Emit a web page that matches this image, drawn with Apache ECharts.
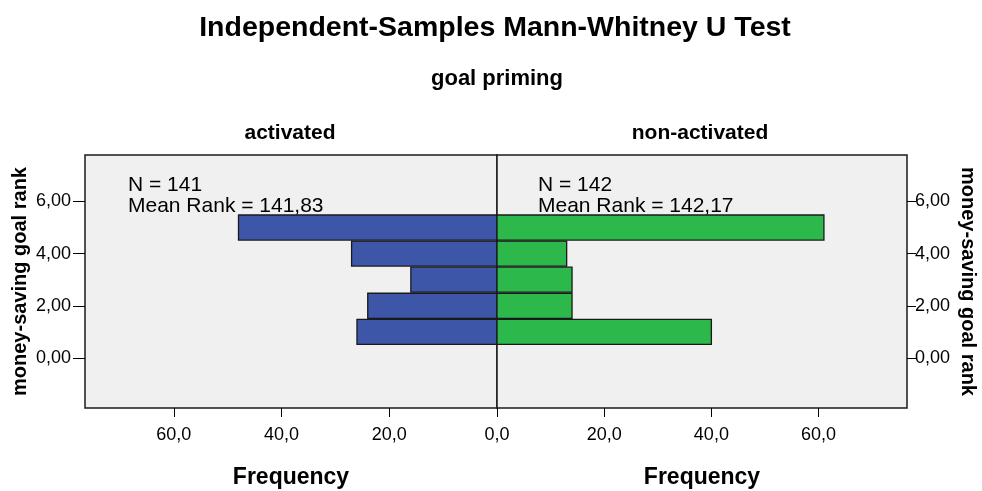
<!DOCTYPE html>
<html>
<head>
<meta charset="utf-8">
<script src="https://cdn.jsdelivr.net/npm/echarts@6/dist/echarts.min.js"></script>
<style>
html,body{margin:0;padding:0;background:#fff;}
#chart{width:982px;height:491px;}
</style>
</head>
<body>
<div id="chart"></div>
<script>
// ---- data ----
const ranks = [1, 2, 3, 4, 5];
const activatedFreq = [26, 24, 16, 27, 48];
const nonActivatedFreq = [40, 14, 14, 13, 61];
const groupNames = ['activated', 'non-activated'];
const groupN = [141, 142];
const groupMeanRank = ['141,83', '142,17'];
const yTicks = [0, 2, 4, 6];
const xTicks = [0, 20, 40, 60];

const FONT = '"Liberation Sans", Arial, sans-serif';
const chart = echarts.init(document.getElementById('chart'));

function fmtX(v){ return v.toFixed(1).replace('.', ','); }
function fmtY(v){ return v.toFixed(2).replace('.', ','); }

function renderBar(color){
  return function(params, api){
    const y = api.value(0);
    const v = api.value(1);
    const p0 = api.coord([0, y + 0.48]);
    const p1 = api.coord([v, y - 0.48]);
    const x = Math.min(p0[0], p1[0]);
    const w = Math.abs(p1[0] - p0[0]);
    return {
      type: 'rect',
      shape: {x: x, y: p0[1], width: w, height: p1[1] - p0[1]},
      style: {fill: color, stroke: '#1a1a1a', lineWidth: 1.3}
    };
  };
}

const yMin = -1.92, yMax = 7.78, xMax = 76.5;

function yAxisCfg(gi, pos){
  const left = pos === 'left';
  return {
    type: 'value', gridIndex: gi, position: pos, min: yMin, max: yMax,
    name: 'money-saving goal rank', nameLocation: 'middle',
    nameRotate: left ? 90 : -90,
    nameGap: left ? 55 : 51,
    nameTextStyle: {fontFamily: FONT, fontWeight: 'bold', fontSize: 20, color: '#000'},
    axisLine: {show: false, onZero: false},
    splitLine: {show: false},
    axisTick: {show: true, length: left ? 12 : 9, customValues: yTicks, lineStyle: {color: '#000', width: 1}},
    axisLabel: {customValues: yTicks, formatter: fmtY, fontFamily: FONT, fontSize: 18, color: '#000', margin: left ? 14 : 8}
  };
}

function xAxisCfg(gi, inverse){
  return {
    type: 'value', gridIndex: gi, inverse: inverse, min: 0, max: xMax, position: 'bottom',
    name: 'Frequency', nameLocation: 'middle', nameGap: 58,
    nameTextStyle: {fontFamily: FONT, fontWeight: 'bold', fontSize: 23, color: '#000'},
    axisLine: {show: false, onZero: false},
    splitLine: {show: false},
    axisTick: {show: true, length: 9, customValues: xTicks, lineStyle: {color: '#000', width: 1}},
    axisLabel: {customValues: inverse ? xTicks : xTicks.slice(1), formatter: fmtX, fontFamily: FONT, fontSize: 18, color: '#000', margin: 18}
  };
}

function txt(s, x, y, font, align){
  return {type: 'text', x: x, y: y, style: {text: s, font: font, fill: '#000', textAlign: align || 'center', textVerticalAlign: 'middle'}};
}

const gridBase = {top: 155, bottom: 83, show: true, backgroundColor: '#f0f0f0', borderColor: '#1a1a1a', borderWidth: 1.5, containLabel: false, outerBoundsMode: 'none'};

const option = {
  backgroundColor: '#fff',
  animation: false,
  grid: [
    Object.assign({left: 85, right: 485}, gridBase),
    Object.assign({left: 497, right: 75}, gridBase)
  ],
  xAxis: [xAxisCfg(0, true), xAxisCfg(1, false)],
  yAxis: [yAxisCfg(0, 'left'), yAxisCfg(1, 'right')],
  graphic: [
    txt('Independent-Samples Mann-Whitney U Test', 495, 28, 'bold 28.5px ' + FONT),
    txt('goal priming', 497, 79, 'bold 22px ' + FONT),
    txt(groupNames[0], 290, 133, 'bold 21px ' + FONT),
    txt(groupNames[1], 700, 133, 'bold 21px ' + FONT),
    txt('N = ' + groupN[0], 128, 185, '21px ' + FONT, 'left'),
    txt('Mean Rank = ' + groupMeanRank[0], 128, 206, '21px ' + FONT, 'left'),
    txt('N = ' + groupN[1], 538, 185, '21px ' + FONT, 'left'),
    txt('Mean Rank = ' + groupMeanRank[1], 538, 206, '21px ' + FONT, 'left')
  ],
  series: [
    {type: 'custom', xAxisIndex: 0, yAxisIndex: 0, renderItem: renderBar('#3d56a8'),
     encode: {x: 1, y: 0}, data: ranks.map((r, i) => [r, activatedFreq[i]])},
    {type: 'custom', xAxisIndex: 1, yAxisIndex: 1, renderItem: renderBar('#2db84b'),
     encode: {x: 1, y: 0}, data: ranks.map((r, i) => [r, nonActivatedFreq[i]])}
  ]
};
chart.setOption(option);
</script>
</body>
</html>
